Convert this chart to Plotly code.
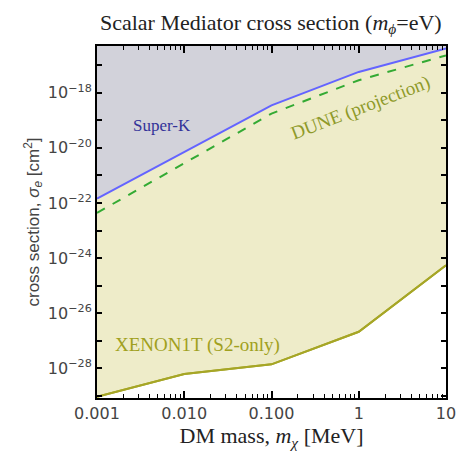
import numpy as np
import plotly.graph_objects as go

# Data (log-space)
superk_x = [0.001, 0.1, 1, 10]
superk_y = [10**-21.84, 10**-18.46, 10**-17.25, 10**-16.40]

dune_x = [0.001, 0.1, 1, 10]
dune_y = [10**-22.36, 10**-18.76, 10**-17.55, 10**-16.65]

xenon_x = [0.001, 0.01, 0.1, 1, 10]
xenon_y = [10**-29.03, 10**-28.2, 10**-27.85, 10**-26.67, 10**-24.26]

top_y = 1e-15  # beyond top of plotting range, used to close the Super-K region

x_tickvals = [0.001, 0.01, 0.1, 1, 10]
x_ticktext = ["0.001", "0.010", "0.100", "1", "10"]
y_exps = list(range(-29, -16))
y_tickvals = [10.0**e for e in y_exps]
y_ticktext = [f"10<sup>\u2212{-e}</sup>" if e % 2 == 0 else "" for e in y_exps]

x_minor = [m * 10.0**d for d in range(-3, 1) for m in range(2, 10)]

GRAY = "#d2d2da"
YELLOW = "#eeecc9"
BLUE = "#6464ff"
GREEN = "#33aa33"
OLIVE = "#a6a626"
SERIF = "Liberation Serif"
SANS = "DejaVu Sans"

fig = go.Figure()
fig.add_trace(go.Scatter(x=xenon_x, y=xenon_y, mode="lines",
                         line=dict(color=OLIVE, width=2), showlegend=False))
fig.add_trace(go.Scatter(x=superk_x, y=superk_y, mode="lines", fill="tonexty",
                         fillcolor=YELLOW, line=dict(width=0), showlegend=False))
fig.add_trace(go.Scatter(x=superk_x, y=superk_y, mode="lines",
                         line=dict(width=0), showlegend=False))
fig.add_trace(go.Scatter(x=superk_x, y=[top_y] * len(superk_x), mode="lines",
                         fill="tonexty", fillcolor=GRAY, line=dict(width=0),
                         showlegend=False))
fig.add_trace(go.Scatter(x=xenon_x, y=xenon_y, mode="lines",
                         line=dict(color=OLIVE, width=2), showlegend=False))
fig.add_trace(go.Scatter(x=dune_x, y=dune_y, mode="lines",
                         line=dict(color=GREEN, width=2, dash="dash"), showlegend=False))
fig.add_trace(go.Scatter(x=superk_x, y=superk_y, mode="lines",
                         line=dict(color=BLUE, width=2), showlegend=False))

fig.update_layout(
    width=459, height=456,
    margin=dict(l=97, r=13, t=46, b=58),
    paper_bgcolor="white", plot_bgcolor="white",
    title=dict(text="Scalar Mediator cross section (<i>m<sub>\u03d5</sub></i>=eV)",
               x=0.59, xanchor="center", y=0.952, yanchor="middle",
               font=dict(family=SERIF, size=22, color="#222")),
    xaxis=dict(type="log", range=[-3, 1], tickvals=x_tickvals, ticktext=x_ticktext,
               automargin=False,
               ticks="inside", ticklen=7, tickwidth=1.5, tickcolor="black",
               minor=dict(tickvals=x_minor, ticks="inside", ticklen=4, tickcolor="black", tickwidth=1),
               showline=True, linecolor="black", linewidth=2, mirror="ticks",
               showgrid=False, zeroline=False,
               tickfont=dict(family=SANS, size=16, color="#444"),
               title=dict(text="DM mass, <i>m<sub>\u03c7</sub></i> [MeV]",
                          font=dict(family=SERIF, size=22, color="#222"), standoff=4)),
    yaxis=dict(type="log", range=[-29.07, -16.31], tickvals=y_tickvals, ticktext=y_ticktext,
               automargin=False,
               ticks="inside", ticklen=5, tickwidth=1.5, tickcolor="black",
               showline=True, linecolor="black", linewidth=2, mirror="ticks",
               showgrid=False, zeroline=False,
               tickfont=dict(family=SANS, size=16, color="#444"),
               title=dict(text="cross section, <i>\u03c3<sub>e</sub></i> [cm<sup>2</sup>]",
                          font=dict(family="Liberation Sans", size=17, color="#444"), standoff=4)),
    annotations=[
        dict(text="Super-K", xref="paper", yref="paper", x=0.186, y=0.775,
             xanchor="center", yanchor="middle",
             showarrow=False, font=dict(family=SERIF, size=17, color="#333399")),
        dict(text="DUNE (projection)", xref="paper", yref="paper", x=0.754, y=0.823,
             xanchor="center", yanchor="middle",
             showarrow=False, textangle=-21, font=dict(family=SERIF, size=19, color="#8f9a2a")),
        dict(text="XENON1T (S2-only)", xref="paper", yref="paper", x=0.289, y=0.150,
             xanchor="center", yanchor="middle",
             showarrow=False, font=dict(family=SERIF, size=19, color="#a0a020")),
    ],
)

fig.write_html("out.html")
